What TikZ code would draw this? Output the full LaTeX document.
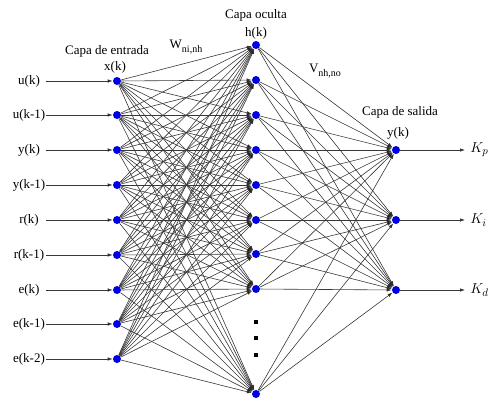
\documentclass[tikz,border=0pt]{standalone}
\usepackage{fontspec}
\setmainfont{Liberation Serif}
\usetikzlibrary{arrows.meta}
\begin{document}
\begin{tikzpicture}[x=1pt,y=-1pt,line width=0.6pt,
  neuron/.style={circle,fill=blue!90!black,inner sep=0pt,minimum size=8pt},
  link/.style={draw=black!78,-{Latex[length=5pt,width=3.4pt,fill=black]}},
  lbl/.style={font=\fontsize{13}{15}\selectfont,inner sep=1pt},
  dot/.style={rectangle,fill=black,inner sep=0pt,minimum size=3.5pt}]
  \useasboundingbox (0,0) rectangle (489,401);
  % input layer
  \foreach \i/\t/\y in {1/u(k)/81,2/u(k-1)/115,3/y(k)/150,4/y(k-1)/185,
      5/r(k)/220,6/r(k-1)/255,7/e(k)/290,8/e(k-1)/324,9/e(k-2)/359} {
    \node[neuron] (in\i) at (117,\y) {};
    \node[lbl] (t\i) at (29,\y) {\t};
    \coordinate (s\i) at (46,\y);
  }
  % hidden layer
  \foreach \j/\y in {1/45,2/80,3/115,4/150,5/185,6/220,7/254,8/289,9/394}
    \node[neuron] (h\j) at (256,\y) {};
  \node[dot] (d1) at (256,322) {};
  \node[dot] (d2) at (256,338) {};
  \node[dot] (d3) at (256,355) {};
  % output layer
  \foreach \k/\g/\y in {1/p/150,2/i/220,3/d/290} {
    \node[neuron] (o\k) at (396,\y) {};
    \coordinate (e\k) at (465,\y);
    \node[anchor=west,inner sep=1pt,font=\fontsize{15}{17}\selectfont] (K\k) at (469,\y) {$K_\g$};
  }
  % connections
  \foreach \i in {1,...,9} {
    \draw[link] (s\i) -- (in\i);
    \foreach \j in {1,...,9}
      \draw[link] (in\i) -- (h\j);
  }
  \foreach \j in {1,...,9}
    \foreach \k in {1,2,3}
      \draw[link] (h\j) -- (o\k);
  \foreach \k in {1,2,3}
    \draw[link] (o\k) -- (e\k);
  % labels
  \node[lbl] (cin) at (107,51) {Capa de entrada};
  \node[lbl] (xk) at (115,67) {x(k)};
  \node[lbl] (W) at (186,47) {W\raisebox{-0.6ex}{\fontsize{10}{12}\selectfont ni,nh}};
  \node[lbl] (coc) at (256,15) {Capa oculta};
  \node[lbl] (hk) at (256,33) {h(k)};
  \node[lbl] (V) at (325,71) {V\raisebox{-0.6ex}{\fontsize{10}{12}\selectfont nh,no}};
  \node[lbl] (csal) at (400,112) {Capa de salida};
  \node[lbl] (yk) at (398,133) {y(k)};
\end{tikzpicture}
\end{document}
